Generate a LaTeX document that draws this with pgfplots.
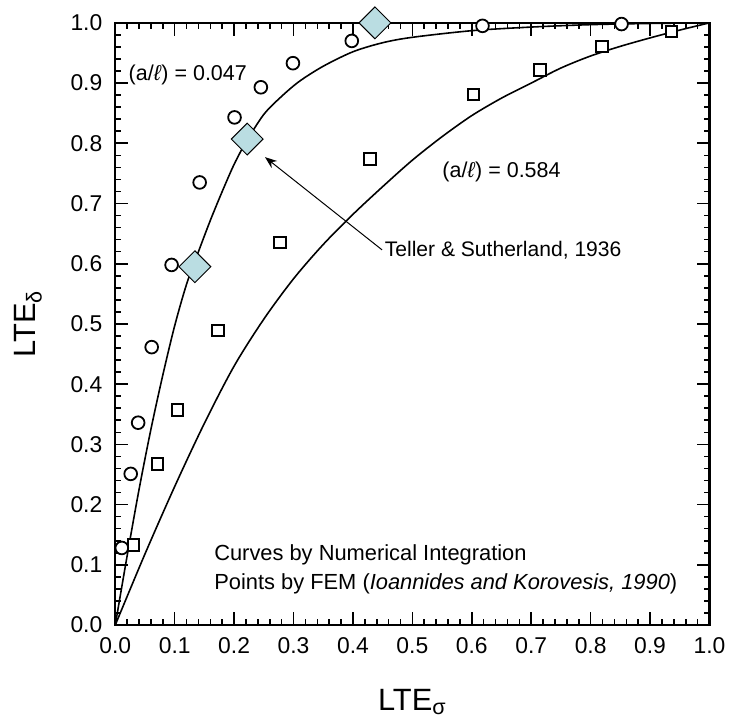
\documentclass[border=0pt]{standalone}
\usepackage{fontspec}
\setmainfont{Liberation Sans}
\usepackage{pgfplots}
\pgfplotsset{compat=1.18}
\usetikzlibrary{arrows.meta}
\definecolor{tsfill}{RGB}{186,221,226}

\begin{document}
\begin{tikzpicture}
\begin{axis}[
  set layers,
  scale only axis,
  width=299pt, height=303pt,
  xmin=0, xmax=1, ymin=0, ymax=1,
  xtick={0,0.1,0.2,0.3,0.4,0.5,0.6,0.7,0.8,0.9,1.0},
  ytick={0,0.1,0.2,0.3,0.4,0.5,0.6,0.7,0.8,0.9,1.0},
  minor tick num=4,
  tick align=inside,
  tick pos=both,
  major tick length=6.5pt,
  minor tick length=3pt,
  every tick/.style={black, line width=0.8pt},
  axis line style={line width=1.2pt},
  /pgf/number format/assume math mode=true,
  /pgf/number format/fixed,
  /pgf/number format/fixed zerofill,
  /pgf/number format/precision=1,
  ticklabel style={font=\fontsize{11.5}{13}\selectfont},
  xticklabel style={yshift=-3pt},
  yticklabel style={xshift=-3pt},
  every axis x label/.style={at={(axis description cs:0.5,0)}, yshift=-43pt, anchor=base,
    inner sep=0pt, font=\fontsize{15.5}{18}\selectfont},
  every axis y label/.style={at={(axis description cs:0,0.5)}, xshift=-40pt, rotate=90, anchor=base,
    inner sep=0pt, font=\fontsize{15.5}{18}\selectfont},
  xlabel={LTE\textsubscript{σ}},
  ylabel={LTE\textsubscript{δ}},
]

% numerical integration, (a/l) = 0.047
\addplot[black, line width=0.8pt, smooth] coordinates {
  (0,0) (0.02,0.115) (0.04,0.225) (0.06,0.325) (0.08,0.415) (0.10,0.497)
  (0.12,0.566) (0.14,0.620) (0.16,0.672) (0.18,0.720) (0.20,0.765)
  (0.22,0.802) (0.25,0.848) (0.28,0.878) (0.31,0.903) (0.35,0.928)
  (0.40,0.952) (0.45,0.967) (0.50,0.976) (0.60,0.987) (0.70,0.993)
  (0.80,0.997) (0.90,0.999) (1.0,1.0)
};

% numerical integration, (a/l) = 0.584
\addplot[black, line width=0.8pt, smooth] coordinates {
  (0,0) (0.05,0.118) (0.10,0.230) (0.15,0.335) (0.20,0.430) (0.25,0.508)
  (0.30,0.575) (0.35,0.632) (0.40,0.682) (0.45,0.728) (0.50,0.772)
  (0.55,0.811) (0.60,0.846) (0.65,0.875) (0.70,0.900) (0.75,0.925)
  (0.80,0.945) (0.85,0.961) (0.90,0.975) (0.95,0.988) (1.0,1.0)
};

% FEM points, (a/l) = 0.584
\addplot[only marks, mark=square*, mark size=2.9pt,
  mark options={fill=white, draw=black, line width=1pt}] coordinates {
  (0.031,0.133) (0.0708,0.267) (0.1048,0.357) (0.173,0.489) (0.2776,0.635)
  (0.429,0.774) (0.603,0.881) (0.715,0.922) (0.819,0.961) (0.936,0.986)
};

% FEM points, (a/l) = 0.047
\addplot[only marks, mark=*, mark size=3.2pt,
  mark options={fill=white, draw=black, line width=0.9pt}] coordinates {
  (0.011,0.128) (0.026,0.251) (0.0385,0.336) (0.0613,0.4615) (0.0948,0.598)
  (0.142,0.735) (0.2007,0.843) (0.245,0.893) (0.299,0.933) (0.398,0.970)
  (0.618,0.995) (0.852,0.998)
};

% Teller & Sutherland (1936)
\addplot[only marks, mark=square*, mark size=5.66pt,
  mark options={rotate=45, fill=tsfill, draw=black, line width=0.5pt}] coordinates {
  (0.134,0.595) (0.222,0.807) (0.437,1.0)
};

\node[anchor=west, inner sep=0pt, font=\fontsize{10.8}{13}\selectfont]
  at (axis cs:0.022,0.914) {(a/\textit{ℓ}) = 0.047};
\node[anchor=west, inner sep=0pt, font=\fontsize{10.8}{13}\selectfont]
  at (axis cs:0.550,0.752) {(a/\textit{ℓ}) = 0.584};
\node[anchor=west, inner sep=0pt, font=\fontsize{10.6}{13}\selectfont]
  at (axis cs:0.453,0.622) {Teller \& Sutherland, 1936};
\draw[-{Stealth[length=6pt,width=4.5pt]}, line width=0.5pt]
  (axis cs:0.449,0.623) -- (axis cs:0.252,0.777);
\node[anchor=west, inner sep=0pt, align=left, font=\fontsize{11}{14.5}\selectfont]
  at (axis cs:0.166,0.093) {Curves by Numerical Integration\\
  Points by FEM (\textit{Ioannides and Korovesis, 1990})};

\end{axis}
% page frame around the axis box
\path (-58pt,-47.5pt) rectangle (308pt,314.5pt);
\end{tikzpicture}
\end{document}
